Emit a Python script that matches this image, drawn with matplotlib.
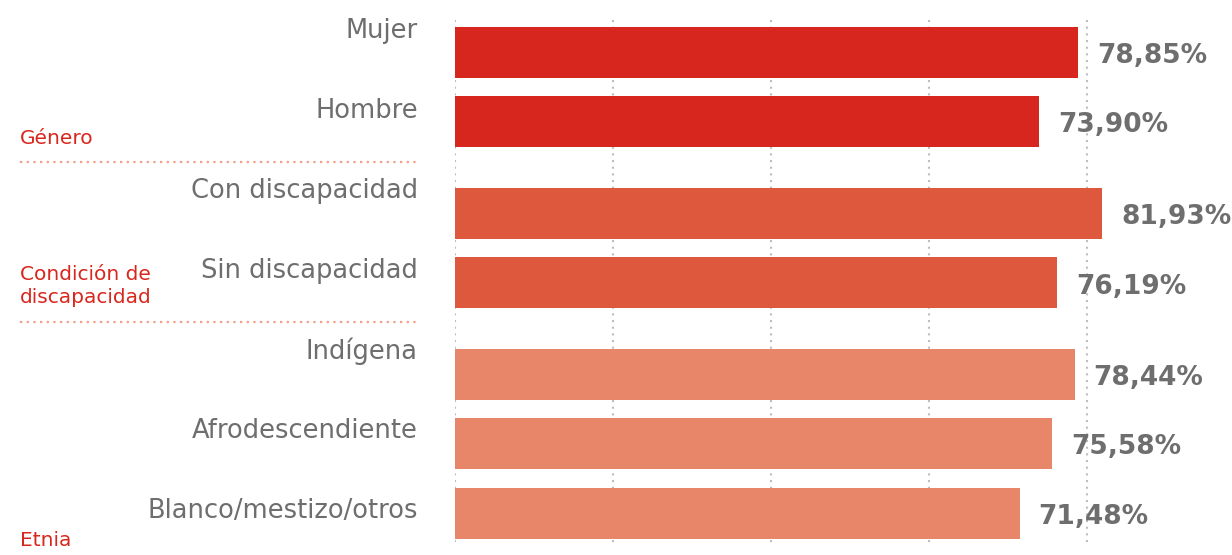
import matplotlib.pyplot as plt
from matplotlib.transforms import blended_transform_factory

categories = ["Mujer", "Hombre", "Con discapacidad", "Sin discapacidad",
              "Indígena", "Afrodescendiente", "Blanco/mestizo/otros"]
values = [78.85, 73.90, 81.93, 76.19, 78.44, 75.58, 71.48]
groups = [0, 0, 1, 1, 2, 2, 2]
group_names = ["Género", "Condición de\ndiscapacidad", "Etnia"]

bar_colors = ["#d7261e", "#de583e", "#e8866a"]
grey = "#6e6e6e"
red = "#d9261c"

W, H = 1232, 555
fig = plt.figure(figsize=(W / 100, H / 100), dpi=100)
x0 = 455
ax = fig.add_axes([x0 / W, 0, 1 - x0 / W, 1])
ax.set_xlim(0, (W - x0) / 7.9)
ax.set_ylim(H, 0)
ax.axis("off")

# bar layout (pixel rows, top at 0)
pos = [52 + i * 69.5 + g * 22 for i, g in enumerate(groups)]

for gx in [0, 20, 40, 60, 80]:
    ax.plot([gx, gx], [20, 545], color="#bdbdbd", lw=1.5,
            linestyle=(0, (1, 2.2)), zorder=0)

ax.barh(pos, values, height=51, color=[bar_colors[g] for g in groups], zorder=2)

for p, v in zip(pos, values):
    ax.text(v + 2.4, p + 4, f"{v:.2f}%".replace(".", ","), ha="left", va="center",
            fontsize=19, fontweight="bold", color=grey, family="DejaVu Sans", zorder=3)

tr = blended_transform_factory(fig.transFigure, ax.transData)
for i, c in enumerate(categories):
    ax.text(418 / W, 31 + 80 * i, c, transform=tr, ha="right", va="center",
            fontsize=18.5, color=grey, family="DejaVu Sans", clip_on=False)

group_y = [138, 286, 540]
for gy, gn in zip(group_y, group_names):
    ax.text(20 / W, gy, gn, transform=tr, ha="left", va="center",
            fontsize=14.5, color=red, family="DejaVu Sans", clip_on=False,
            linespacing=1.3)

for sy in [162, 322]:
    ax.plot([20 / W, 420 / W], [sy, sy], transform=tr, color="#f2a085",
            lw=1.6, linestyle=(0, (1, 2)), clip_on=False)

fig.savefig("out.png", dpi=100)
